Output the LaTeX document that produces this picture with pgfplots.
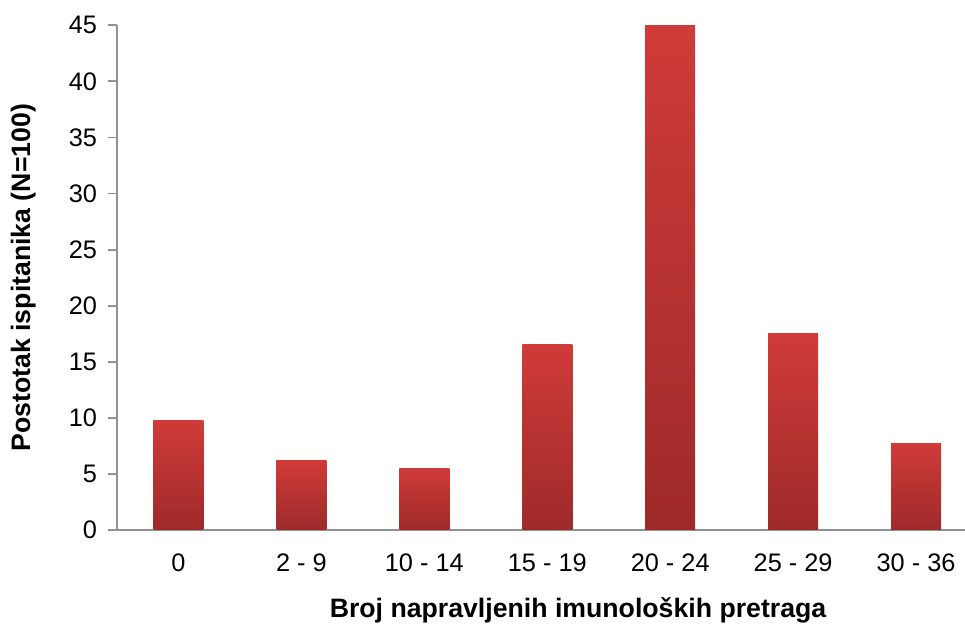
\documentclass[border=0pt]{standalone}
\usepackage{fontspec}
\setmainfont{Liberation Sans}
\usepackage{pgfplots}
\pgfplotsset{compat=1.18}
\definecolor{axgray}{RGB}{145,145,145}
\definecolor{bartop}{RGB}{207,59,57}
\definecolor{barbot}{RGB}{158,42,42}
\begin{document}
\begin{tikzpicture}
\begin{axis}[
  scale only axis,
  width=636pt, height=378.5pt,
  xmin=-0.5, xmax=6.398,
  ymin=0, ymax=45,
  ytick={0,5,...,45},
  xtick={0,1,2,3,4,5,6},
  xticklabels={0,2 - 9,10 - 14,15 - 19,20 - 24,25 - 29,30 - 36},
  axis x line=bottom, axis y line=left,
  axis line style={axgray, line width=1.4pt, -},
  x axis line style={-},
  y axis line style={-},
  major tick length=6.5pt,
  tick align=outside,
  xtick style={draw=none},
  ytick style={axgray, line width=1.4pt},
  /pgf/number format/assume math mode=true,
  tick label style={font=\fontsize{19}{21}\selectfont, black},
  xticklabel style={yshift=-8pt},
  yticklabel style={xshift=-5pt},
  label style={font=\bfseries\fontsize{20}{22}\selectfont},
  xlabel={Broj napravljenih imunoloških pretraga},
  ylabel={Postotak ispitanika (N=100)},
  xlabel style={yshift=-12pt, xshift=27.75pt},
  ylabel style={yshift=18pt},
  ybar, bar width=37.5pt, bar shift=0pt,
  every axis plot/.append style={draw=none, top color=bartop, bottom color=barbot},
  clip=false,
]
\addplot coordinates {(0,9.8)};
\addplot coordinates {(1,6.2)};
\addplot coordinates {(2,5.5)};
\addplot coordinates {(3,16.5)};
\addplot coordinates {(4,45)};
\addplot coordinates {(5,17.5)};
\addplot coordinates {(6,7.7)};
\end{axis}
\pgfresetboundingbox
\path[use as bounding box] (-87.75pt,-73.5pt) rectangle (636pt,397.5pt);
\end{tikzpicture}
\end{document}
